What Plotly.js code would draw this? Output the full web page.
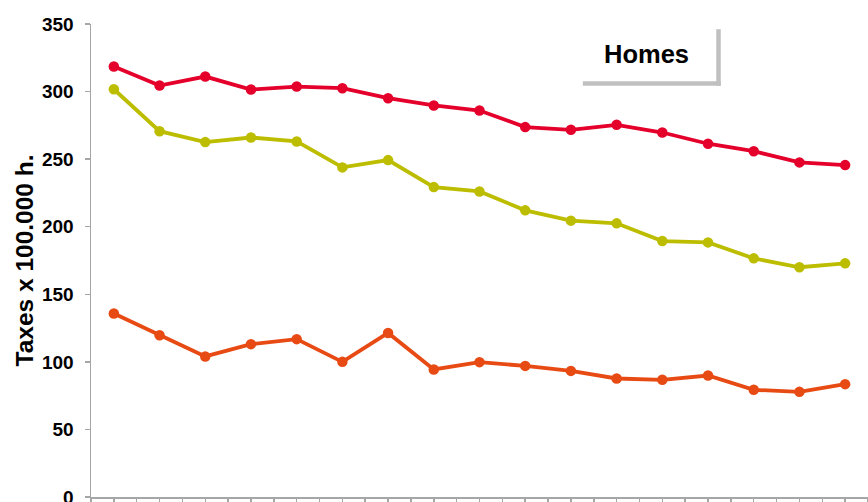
<!DOCTYPE html>
<html>
<head>
<meta charset="utf-8">
<script src="https://cdn.plot.ly/plotly-3.0.1.min.js"></script>
<style>html,body{margin:0;padding:0;background:#fff;overflow:hidden;}#chart{width:868px;height:516px;}</style>
</head>
<body>
<div id="chart"></div>
<script>
// Series values (Taxes x 100.000 h.), 17 periods
const seriesRed    = [318.5, 304.5, 311.1, 301.5, 303.7, 302.5, 295.1, 289.7, 286.0, 273.7, 271.7, 275.4, 269.7, 261.4, 255.9, 247.6, 245.6];
const seriesYellow = [301.7, 270.7, 262.6, 266.0, 263.1, 243.9, 249.3, 229.3, 226.1, 212.1, 204.5, 202.5, 189.4, 188.4, 176.6, 170.0, 172.9];
const seriesOrange = [135.8, 119.7, 104.0, 113.1, 116.8, 100.0, 121.4, 94.4, 99.8, 97.0, 93.3, 87.7, 86.7, 89.9, 79.3, 77.8, 83.5];
const yTickValues  = [0, 50, 100, 150, 200, 250, 300, 350];
const yTitle = 'Taxes x 100.000 h.';
const boxLabel = 'Homes';

// category positions: each period sits on every other minor tick
const xPos = seriesRed.map((_, i) => 2 * i + 1);

function trace(vals, color) {
  return {
    x: xPos, y: vals, type: 'scatter', mode: 'lines+markers',
    line: {color: color, width: 3.8},
    marker: {color: color, size: 10.5},
    hoverinfo: 'y'
  };
}

const data = [
  trace(seriesRed, '#E4002B'),
  trace(seriesYellow, '#BDBD00'),
  trace(seriesOrange, '#E84A14')
];

const layout = {
  width: 868, height: 516,
  margin: {l: 91, r: 0, t: 24, b: 19},
  paper_bgcolor: '#ffffff', plot_bgcolor: '#ffffff',
  showlegend: false,
  font: {family: 'Liberation Sans, Arial, sans-serif', color: '#000'},
  xaxis: {
    range: [0, 34], tick0: 0, dtick: 1, ticks: 'outside', ticklen: 8,
    tickcolor: '#a6a6a6', tickwidth: 1.5, showticklabels: false,
    showline: true, linecolor: '#a6a6a6', linewidth: 1.5,
    showgrid: false, zeroline: false, fixedrange: true
  },
  yaxis: {
    range: [0, 350], tickvals: yTickValues, ticks: 'outside', ticklen: 5,
    tickcolor: '#a6a6a6', tickwidth: 1.5, ticklabelstandoff: 7,
    tickfont: {size: 19, family: 'Liberation Sans, Arial, sans-serif', weight: 'bold', color: '#000'},
    showline: true, linecolor: '#a6a6a6', linewidth: 1.5,
    showgrid: false, zeroline: false, fixedrange: true,
    title: {text: yTitle, standoff: 1,
      font: {size: 24.5, family: 'Liberation Sans, Arial, sans-serif', weight: 'bold', color: '#000'}}
  },
  annotations: [{
    text: boxLabel, xref: 'paper', yref: 'paper', x: 0.715, y: 0.9366,
    xanchor: 'center', yanchor: 'middle', showarrow: false,
    font: {size: 25.5, family: 'Liberation Sans, Arial, sans-serif', weight: 'bold', color: '#000'}
  }],
  shapes: [
    {type: 'line', xref: 'paper', yref: 'paper', x0: 0.633, x1: 0.8105, y0: 0.874, y1: 0.874,
     line: {color: '#c0c0c0', width: 4.5}},
    {type: 'line', xref: 'paper', yref: 'paper', x0: 0.8076, x1: 0.8076, y0: 0.8696, y1: 0.989,
     line: {color: '#c0c0c0', width: 4.5}}
  ]
};

Plotly.newPlot('chart', data, layout, {displayModeBar: false, staticPlot: true});
</script>
</body>
</html>
